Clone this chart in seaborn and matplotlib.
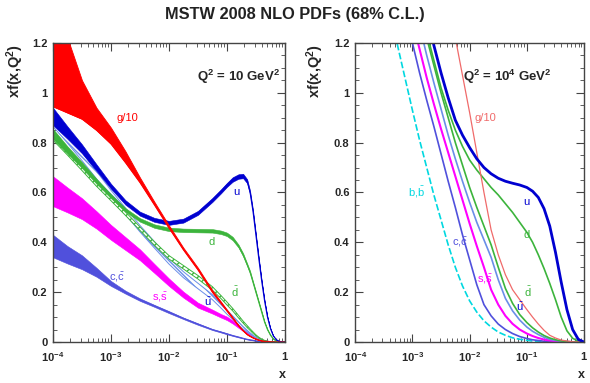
import numpy as np
import matplotlib
matplotlib.use("Agg")
import matplotlib.pyplot as plt
from matplotlib.ticker import FixedLocator, LogLocator, NullFormatter, MultipleLocator
import seaborn as sns

# ---------------------------------------------------------------
# Données (log10 x, valeurs de x f(x,Q^2))
# ---------------------------------------------------------------
LOGX_L = [-4, -3.75, -3.5, -3.25, -3, -2.75, -2.5, -2.25, -2, -1.75, -1.5,
          -1.25, -1.1, -1, -0.9, -0.8, -0.72, -0.65, -0.6, -0.55, -0.5,
          -0.45, -0.4, -0.35, -0.3, -0.25, -0.2, -0.15, -0.1, -0.05, 0]

# Q^2 = 10 GeV^2
G10_LO_L = [0.945, 0.92, 0.895, 0.85, 0.795, 0.72, 0.64, 0.55, 0.458, 0.37, 0.29,
            0.2, 0.155, 0.125, 0.095, 0.065, 0.045, 0.03, 0.023, 0.017, 0.012,
            0.008, 0.005, 0.003, 0.002, 0.001, 0.0005, 0, 0, 0, 0]
G10_HI_L = [1.5, 1.22, 1.05, 0.94, 0.86, 0.765, 0.66, 0.562, 0.468, 0.378, 0.298,
            0.207, 0.161, 0.13, 0.099, 0.068, 0.047, 0.032, 0.025, 0.018, 0.013,
            0.009, 0.0055, 0.0035, 0.0022, 0.0012, 0.0006, 0, 0, 0, 0]
U_L = [0.905, 0.84, 0.775, 0.70, 0.625, 0.56, 0.515, 0.49, 0.478, 0.487, 0.518,
       0.57, 0.605, 0.63, 0.652, 0.664, 0.666, 0.645, 0.60, 0.525, 0.43,
       0.335, 0.245, 0.165, 0.10, 0.055, 0.025, 0.01, 0.003, 0.0005, 0]
U_ERR_L = [0.035, 0.025, 0.018, 0.013, 0.01, 0.009, 0.008, 0.008, 0.008, 0.008, 0.008,
           0.008, 0.008, 0.008, 0.009, 0.009, 0.009, 0.008, 0.007, 0.006, 0.005,
           0.004, 0.003, 0.002, 0.0015, 0.001, 0.0005, 0, 0, 0, 0]
D_L = [0.835, 0.77, 0.71, 0.645, 0.585, 0.53, 0.49, 0.465, 0.452, 0.448, 0.447,
       0.446, 0.44, 0.432, 0.415, 0.385, 0.35, 0.31, 0.28, 0.24, 0.20,
       0.16, 0.12, 0.08, 0.05, 0.028, 0.013, 0.005, 0.0015, 0.0002, 0]
D_ERR_L = [0.02, 0.015, 0.012, 0.01, 0.008, 0.007, 0.007, 0.007, 0.007, 0.007, 0.007,
           0.007, 0.007, 0.007, 0.007, 0.006, 0.006, 0.005, 0.005, 0.004, 0.004,
           0.003, 0.003, 0.002, 0.0015, 0.001, 0.0005, 0, 0, 0, 0]
UBAR_L = [0.895, 0.82, 0.745, 0.67, 0.595, 0.525, 0.455, 0.39, 0.325, 0.27, 0.225,
          0.18, 0.145, 0.12, 0.098, 0.075, 0.057, 0.043, 0.034, 0.025, 0.017,
          0.011, 0.007, 0.004, 0.002, 0.001, 0.0004, 0, 0, 0, 0]
UBAR_ERR_L = [0.03, 0.022, 0.017, 0.015, 0.014, 0.013, 0.013, 0.013, 0.012, 0.012, 0.011,
              0.01, 0.009, 0.008, 0.007, 0.006, 0.005, 0.004, 0.003, 0.0025, 0.002,
              0.0015, 0.001, 0.0005, 0, 0, 0, 0, 0, 0, 0]
DBAR_L = [0.83, 0.765, 0.70, 0.635, 0.575, 0.515, 0.455, 0.395, 0.34, 0.30, 0.26,
          0.215, 0.18, 0.155, 0.13, 0.102, 0.08, 0.062, 0.05, 0.038, 0.027,
          0.018, 0.011, 0.006, 0.003, 0.0015, 0.0006, 0, 0, 0, 0]
DBAR_ERR_L = [0.02, 0.015, 0.012, 0.01, 0.008, 0.007, 0.007, 0.007, 0.007, 0.007, 0.007,
              0.007, 0.006, 0.006, 0.005, 0.005, 0.004, 0.004, 0.003, 0.003, 0.002,
              0.0015, 0.001, 0.0005, 0.0003, 0, 0, 0, 0, 0, 0]
S_L = [0.605, 0.57, 0.535, 0.49, 0.44, 0.395, 0.35, 0.295, 0.24, 0.19, 0.148,
       0.122, 0.105, 0.095, 0.08, 0.062, 0.049, 0.038, 0.031, 0.024, 0.017,
       0.012, 0.008, 0.005, 0.003, 0.0015, 0.0007, 0.0002, 0, 0, 0]
S_ERR_L = [0.06, 0.05, 0.042, 0.035, 0.03, 0.026, 0.022, 0.018, 0.015, 0.012, 0.01,
           0.008, 0.007, 0.007, 0.006, 0.005, 0.005, 0.004, 0.004, 0.003, 0.003,
           0.002, 0.002, 0.001, 0.001, 0.0005, 0, 0, 0, 0, 0]
C_L = [0.385, 0.35, 0.32, 0.28, 0.235, 0.20, 0.17, 0.145, 0.12, 0.095, 0.072,
       0.05, 0.04, 0.033, 0.026, 0.02, 0.015, 0.011, 0.009, 0.007, 0.005,
       0.0035, 0.0023, 0.0014, 0.0008, 0.0003, 0, 0, 0, 0, 0]
C_ERR_L = [0.045, 0.035, 0.028, 0.018, 0.01, 0.006, 0.005, 0.004, 0.004, 0.003, 0.003,
           0.002, 0.002, 0.002, 0.0015, 0.0015, 0.001, 0.001, 0.001, 0.0008, 0.0005,
           0.0004, 0.0003, 0.0002, 0, 0, 0, 0, 0, 0, 0]

# Q^2 = 10^4 GeV^2
LOGX_R = [-3.5, -3.25, -3, -2.875, -2.75, -2.625, -2.5, -2.375, -2.25, -2.125, -2,
          -1.875, -1.75, -1.625, -1.5, -1.375, -1.25, -1.125, -1, -0.9, -0.8,
          -0.7, -0.6, -0.5, -0.4, -0.3, -0.2, -0.1, 0]
G10_R = [3.0, 2.6, 2.2, 2.0, 1.85, 1.7, 1.55, 1.39, 1.22, 1.07, 0.92,
         0.76, 0.6, 0.45, 0.35, 0.27, 0.21, 0.17, 0.13, 0.1, 0.072,
         0.047, 0.027, 0.016, 0.008, 0.004, 0.001, 0.0002, 0]
U_R = [2.4, 2.0, 1.6, 1.45, 1.32, 1.19, 1.08, 0.98, 0.89, 0.83, 0.78,
       0.735, 0.70, 0.675, 0.657, 0.645, 0.637, 0.63, 0.62, 0.605, 0.58,
       0.535, 0.465, 0.36, 0.24, 0.13, 0.05, 0.01, 0]
D_R = [2.3, 1.85, 1.5, 1.36, 1.24, 1.13, 1.02, 0.93, 0.85, 0.785, 0.73,
       0.69, 0.655, 0.62, 0.59, 0.555, 0.52, 0.48, 0.44, 0.40, 0.35,
       0.295, 0.235, 0.17, 0.10, 0.045, 0.015, 0.003, 0]
UBAR_R = [1.85, 1.6, 1.38, 1.27, 1.15, 1.04, 0.935, 0.83, 0.735, 0.645, 0.56,
          0.48, 0.41, 0.34, 0.25, 0.175, 0.125, 0.088, 0.06, 0.043, 0.03,
          0.019, 0.011, 0.006, 0.003, 0.0012, 0.0003, 0, 0]
DBAR_R = [1.95, 1.68, 1.45, 1.34, 1.22, 1.11, 1.0, 0.9, 0.8, 0.71, 0.62,
          0.54, 0.465, 0.39, 0.30, 0.215, 0.155, 0.11, 0.078, 0.057, 0.04,
          0.026, 0.016, 0.009, 0.0045, 0.0018, 0.0005, 0, 0]
S_R = [1.75, 1.52, 1.29, 1.175, 1.06, 0.955, 0.855, 0.76, 0.665, 0.57, 0.475,
       0.385, 0.30, 0.21, 0.15, 0.105, 0.073, 0.05, 0.034, 0.024, 0.016,
       0.01, 0.006, 0.003, 0.0015, 0.0005, 0, 0, 0]
C_R = [1.7, 1.45, 1.2, 1.08, 0.97, 0.865, 0.755, 0.645, 0.54, 0.43, 0.33,
       0.23, 0.15, 0.105, 0.072, 0.05, 0.034, 0.022, 0.014, 0.009, 0.006,
       0.003, 0.002, 0.001, 0, 0, 0, 0, 0]
B_R = [1.45, 1.18, 0.93, 0.81, 0.70, 0.59, 0.49, 0.39, 0.30, 0.225, 0.165,
       0.12, 0.085, 0.06, 0.04, 0.027, 0.017, 0.011, 0.007, 0.004, 0.003,
       0.002, 0.001, 0, 0, 0, 0, 0, 0]

XTICKS = [1e-4, 1e-3, 1e-2, 1e-1, 1]
XTICK_LABELS = [r"$\mathbf{10^{-4}}$", r"$\mathbf{10^{-3}}$", r"$\mathbf{10^{-2}}$",
                r"$\mathbf{10^{-1}}$", r"$\mathbf{1}$"]
YTICKS = [0, 0.2, 0.4, 0.6, 0.8, 1.0, 1.2]
YTICK_LABELS = ["0", "0.2", "0.4", "0.6", "0.8", "1", "1.2"]

# étiquettes des courbes : (texte, log10 x, y)
ETIQ_L = [("g/10", -2.72, 0.90), ("u", -0.83, 0.60), ("d", -1.26, 0.40),
          (r"$\bar{\mathrm{d}}$", -0.86, 0.20), (r"$\bar{\mathrm{u}}$", -1.33, 0.16),
          (r"s,$\bar{\mathrm{s}}$", -2.16, 0.18), (r"c,$\bar{\mathrm{c}}$", -2.9, 0.26)]
ETIQ_R = [("g/10", -1.73, 0.90), ("u", -1.0, 0.56), ("d", -1.0, 0.43),
          (r"$\bar{\mathrm{d}}$", -0.98, 0.20), (r"$\bar{\mathrm{u}}$", -1.12, 0.14),
          (r"s,$\bar{\mathrm{s}}$", -1.73, 0.25), (r"c,$\bar{\mathrm{c}}$", -2.17, 0.40),
          (r"b,$\bar{\mathrm{b}}$", -2.92, 0.60)]

# couleurs
ROUGE = "#ff0000"
ROUGE_CLAIR = "#f06a6a"
BLEU = "#0000d0"
VERT = "#3cb43c"
BLEU_CLAIR = "#6a8ee8"
MAGENTA = "#ff00ff"
VIOLET = "#5050dc"
CYAN = "#00d8e0"

COUL_L = [ROUGE, BLEU, VERT, VERT, BLEU, MAGENTA, VIOLET]
COUL_R = [ROUGE_CLAIR, BLEU, VERT, VERT, BLEU, MAGENTA, VIOLET, CYAN]

sns.set_style("ticks")
plt.rcParams["font.family"] = ["Liberation Sans", "DejaVu Sans"]
plt.rcParams["mathtext.fontset"] = "custom"
plt.rcParams["mathtext.rm"] = "Liberation Sans"
plt.rcParams["mathtext.bf"] = "Liberation Sans:bold"
plt.rcParams["mathtext.it"] = "Liberation Sans:italic"


def bande(ax, logx, centre, err, couleur, hatch=None, z=2):
    x = 10 ** np.array(logx)
    c = np.array(centre)
    e = np.array(err)
    if hatch:
        ax.fill_between(x, c - e, c + e, facecolor="white", edgecolor=couleur,
                        hatch=hatch, linewidth=0.0, zorder=z)
        sns.lineplot(x=x, y=c - e, ax=ax, color=couleur, lw=0.7, zorder=z)
        sns.lineplot(x=x, y=c + e, ax=ax, color=couleur, lw=0.7, zorder=z)
    else:
        ax.fill_between(x, c - e, c + e, color=couleur, linewidth=0.4, zorder=z)
        sns.lineplot(x=x, y=c, ax=ax, color=couleur, lw=0.8, zorder=z)


def habiller(ax):
    ax.set_xscale("log")
    ax.set_xlim(1e-4, 1)
    ax.set_ylim(0, 1.2)
    ax.xaxis.set_major_locator(FixedLocator(XTICKS))
    ax.set_xticklabels(XTICK_LABELS)
    ax.xaxis.set_minor_locator(LogLocator(base=10, subs=np.arange(2, 10)))
    ax.xaxis.set_minor_formatter(NullFormatter())
    ax.yaxis.set_major_locator(FixedLocator(YTICKS))
    ax.set_yticklabels(YTICK_LABELS, fontweight="bold")
    ax.yaxis.set_minor_locator(MultipleLocator(0.05))
    ax.tick_params(which="both", direction="in", top=True, right=True,
                   labelsize=8, pad=4, color="#444444")
    ax.tick_params(which="major", length=6, width=0.8)
    ax.tick_params(which="minor", length=3, width=0.6)
    ax.tick_params(axis="x", pad=6)
    for sp in ax.spines.values():
        sp.set_linewidth(1.0)
        sp.set_color("#444444")
    ax.set_xlabel("")
    ax.set_ylabel("")


def etiquettes(ax, etiq, couleurs):
    for (txt, lx, y), coul in zip(etiq, couleurs):
        ax.text(10 ** lx, y, txt, color=coul, fontsize=8, ha="center", va="center",
                zorder=5)


fig = plt.figure(figsize=(5.9, 3.83), dpi=100)
axL = fig.add_axes([0.0898, 0.107, 0.393, 0.781])
axR = fig.add_axes([0.602, 0.107, 0.388, 0.781])

# ---- panneau gauche : Q^2 = 10 GeV^2
bande(axL, LOGX_L, C_L, C_ERR_L, VIOLET)
bande(axL, LOGX_L, S_L, S_ERR_L, MAGENTA)
bande(axL, LOGX_L, UBAR_L, UBAR_ERR_L, BLEU_CLAIR, hatch="\\\\\\\\")
bande(axL, LOGX_L, DBAR_L, DBAR_ERR_L, VERT, hatch="////", z=2.1)
bande(axL, LOGX_L, D_L, D_ERR_L, VERT, z=2.2)
bande(axL, LOGX_L, U_L, U_ERR_L, BLEU, z=2.3)
xg = 10 ** np.array(LOGX_L)
axL.fill_between(xg, G10_LO_L, G10_HI_L, color=ROUGE, linewidth=0.6, zorder=2.4)
sns.lineplot(x=xg, y=G10_LO_L, ax=axL, color=ROUGE, lw=0.8, zorder=2.4)

habiller(axL)
etiquettes(axL, ETIQ_L, COUL_L)
axL.text(0.62, 0.885, r"$\mathbf{Q^2}$ = 10 GeV$^{\mathbf{2}}$", transform=axL.transAxes,
         fontsize=9.5, fontweight="bold", ha="left", va="center")

# ---- panneau droit : Q^2 = 10^4 GeV^2
xr = 10 ** np.array(LOGX_R)
sns.lineplot(x=xr, y=B_R, ax=axR, color=CYAN, lw=1.2, linestyle=(0, (4, 1.5)))
sns.lineplot(x=xr, y=C_R, ax=axR, color=VIOLET, lw=1.2)
sns.lineplot(x=xr, y=S_R, ax=axR, color=MAGENTA, lw=1.5)
sns.lineplot(x=xr, y=UBAR_R, ax=axR, color=BLEU_CLAIR, lw=1.2)
sns.lineplot(x=xr, y=DBAR_R, ax=axR, color=VERT, lw=1.2)
sns.lineplot(x=xr, y=D_R, ax=axR, color=VERT, lw=1.2)
sns.lineplot(x=xr, y=G10_R, ax=axR, color=ROUGE_CLAIR, lw=0.9)
sns.lineplot(x=xr, y=U_R, ax=axR, color=BLEU, lw=2.0)

habiller(axR)
etiquettes(axR, ETIQ_R, COUL_R)
axR.text(0.47, 0.885, r"$\mathbf{Q^2}$ = 10$^{\mathbf{4}}$ GeV$^{\mathbf{2}}$",
         transform=axR.transAxes, fontsize=9.5, fontweight="bold", ha="left", va="center")

# textes globaux
fig.text(0.5, 0.962, "MSTW 2008 NLO PDFs (68% C.L.)", ha="center", va="center",
         fontsize=11.8, fontweight="bold", color="#222222")
for xf in (0.026, 0.535):
    fig.text(xf, 0.885, r"xf(x,$\mathbf{Q^2}$)", rotation=90, ha="center", va="top",
             fontsize=10.5, fontweight="bold")
for xf in (0.478, 0.985):
    fig.text(xf, 0.022, "x", ha="center", va="center", fontsize=9, fontweight="bold")

fig.savefig("out.png", dpi=100)
plt.close(fig)
